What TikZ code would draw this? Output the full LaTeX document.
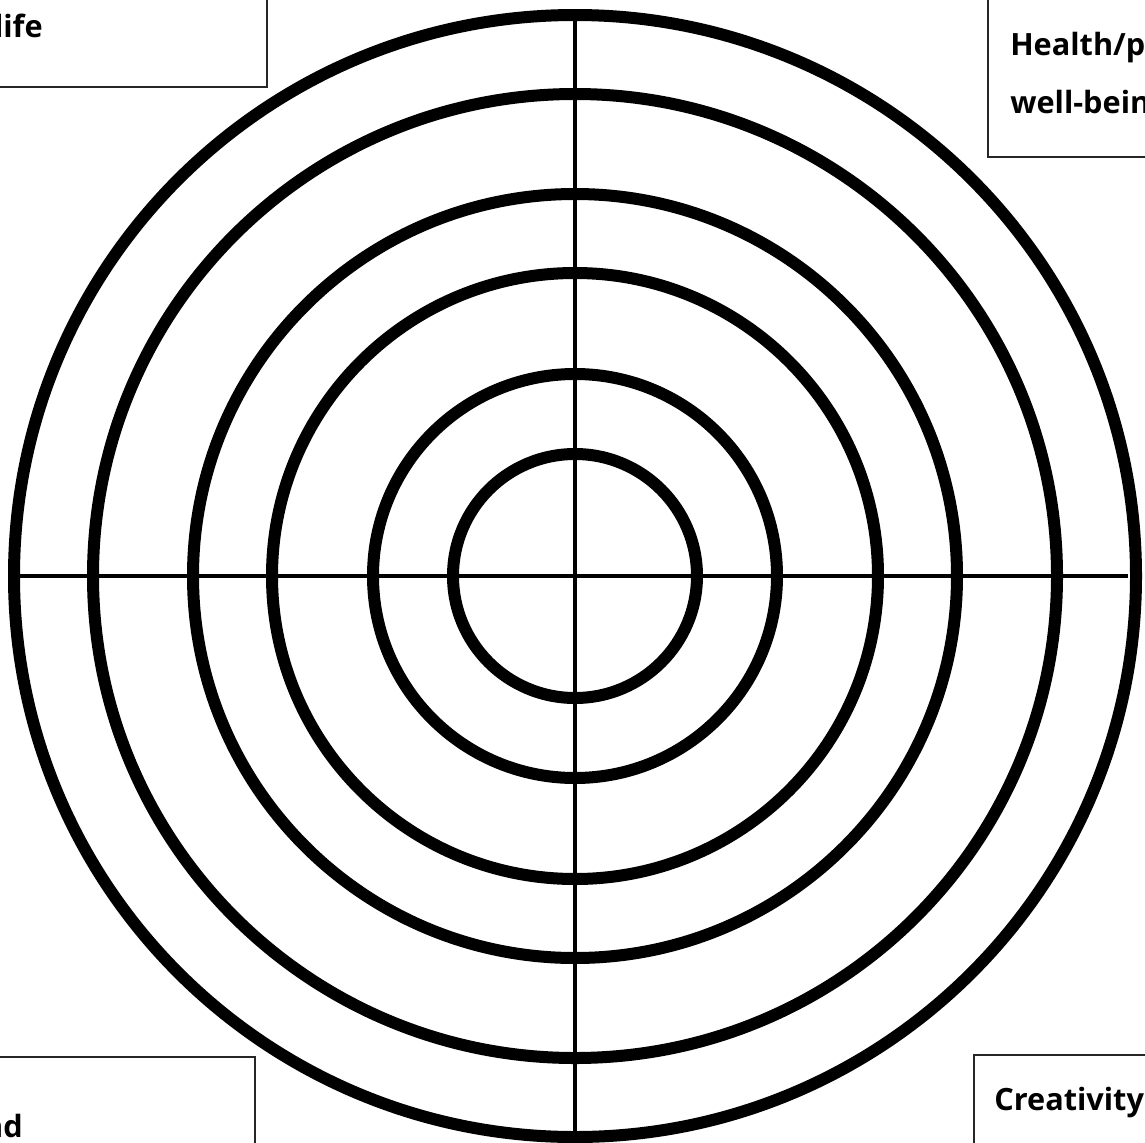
\documentclass[tikz,border=0pt]{standalone}
\usepackage{fontspec}
\setmainfont{Open Sans}
\usetikzlibrary{positioning}
\tikzset{
  ring/.style={draw=black,line width=9pt},
  axis/.style={draw=black,line width=2.7pt},
  areabox/.style={draw=black!85,line width=1.4pt},
  arealbl/.style={font=\bfseries\fontsize{23}{28}\selectfont,inner sep=0pt},
}
\begin{document}
\begin{tikzpicture}[x=0.75pt,y=-0.75pt]
  \useasboundingbox (0,0) rectangle (1145,1142);
  \coordinate (ctr) at (575,576);
  % target rings
  \foreach \r in {561,482,382,303,202,122}{
    \draw[ring] (ctr) circle[radius=\r];
  }
  % cross
  \coordinate (west) at (18,576);
  \coordinate (east) at (1128,576);
  \coordinate (north) at (575,20);
  \coordinate (south) at (575,1133);
  \draw[axis] (west) -- (east);
  \draw[axis] (north) -- (south);
  % corner boxes
  \draw[areabox] (-20,-20) rectangle (267,87);
  \draw[areabox] (988,-20) rectangle (1165,157);
  \draw[areabox] (-20,1057) rectangle (255,1165);
  \draw[areabox] (974,1055) rectangle (1165,1165);
  \node[arealbl,anchor=base east] (lifelbl) at (43,37) {life};
  \node[arealbl,anchor=base west] (healthlbl) at (1010,55) {Health/physical};
  \node[arealbl,anchor=base west] (welllbl) at (1010,113) {well-being};
  \node[arealbl,anchor=base east] (ndlbl) at (23,1137) {nd};
  \node[arealbl,anchor=base west] (creatlbl) at (994,1110) {Creativity};
\end{tikzpicture}
\end{document}
